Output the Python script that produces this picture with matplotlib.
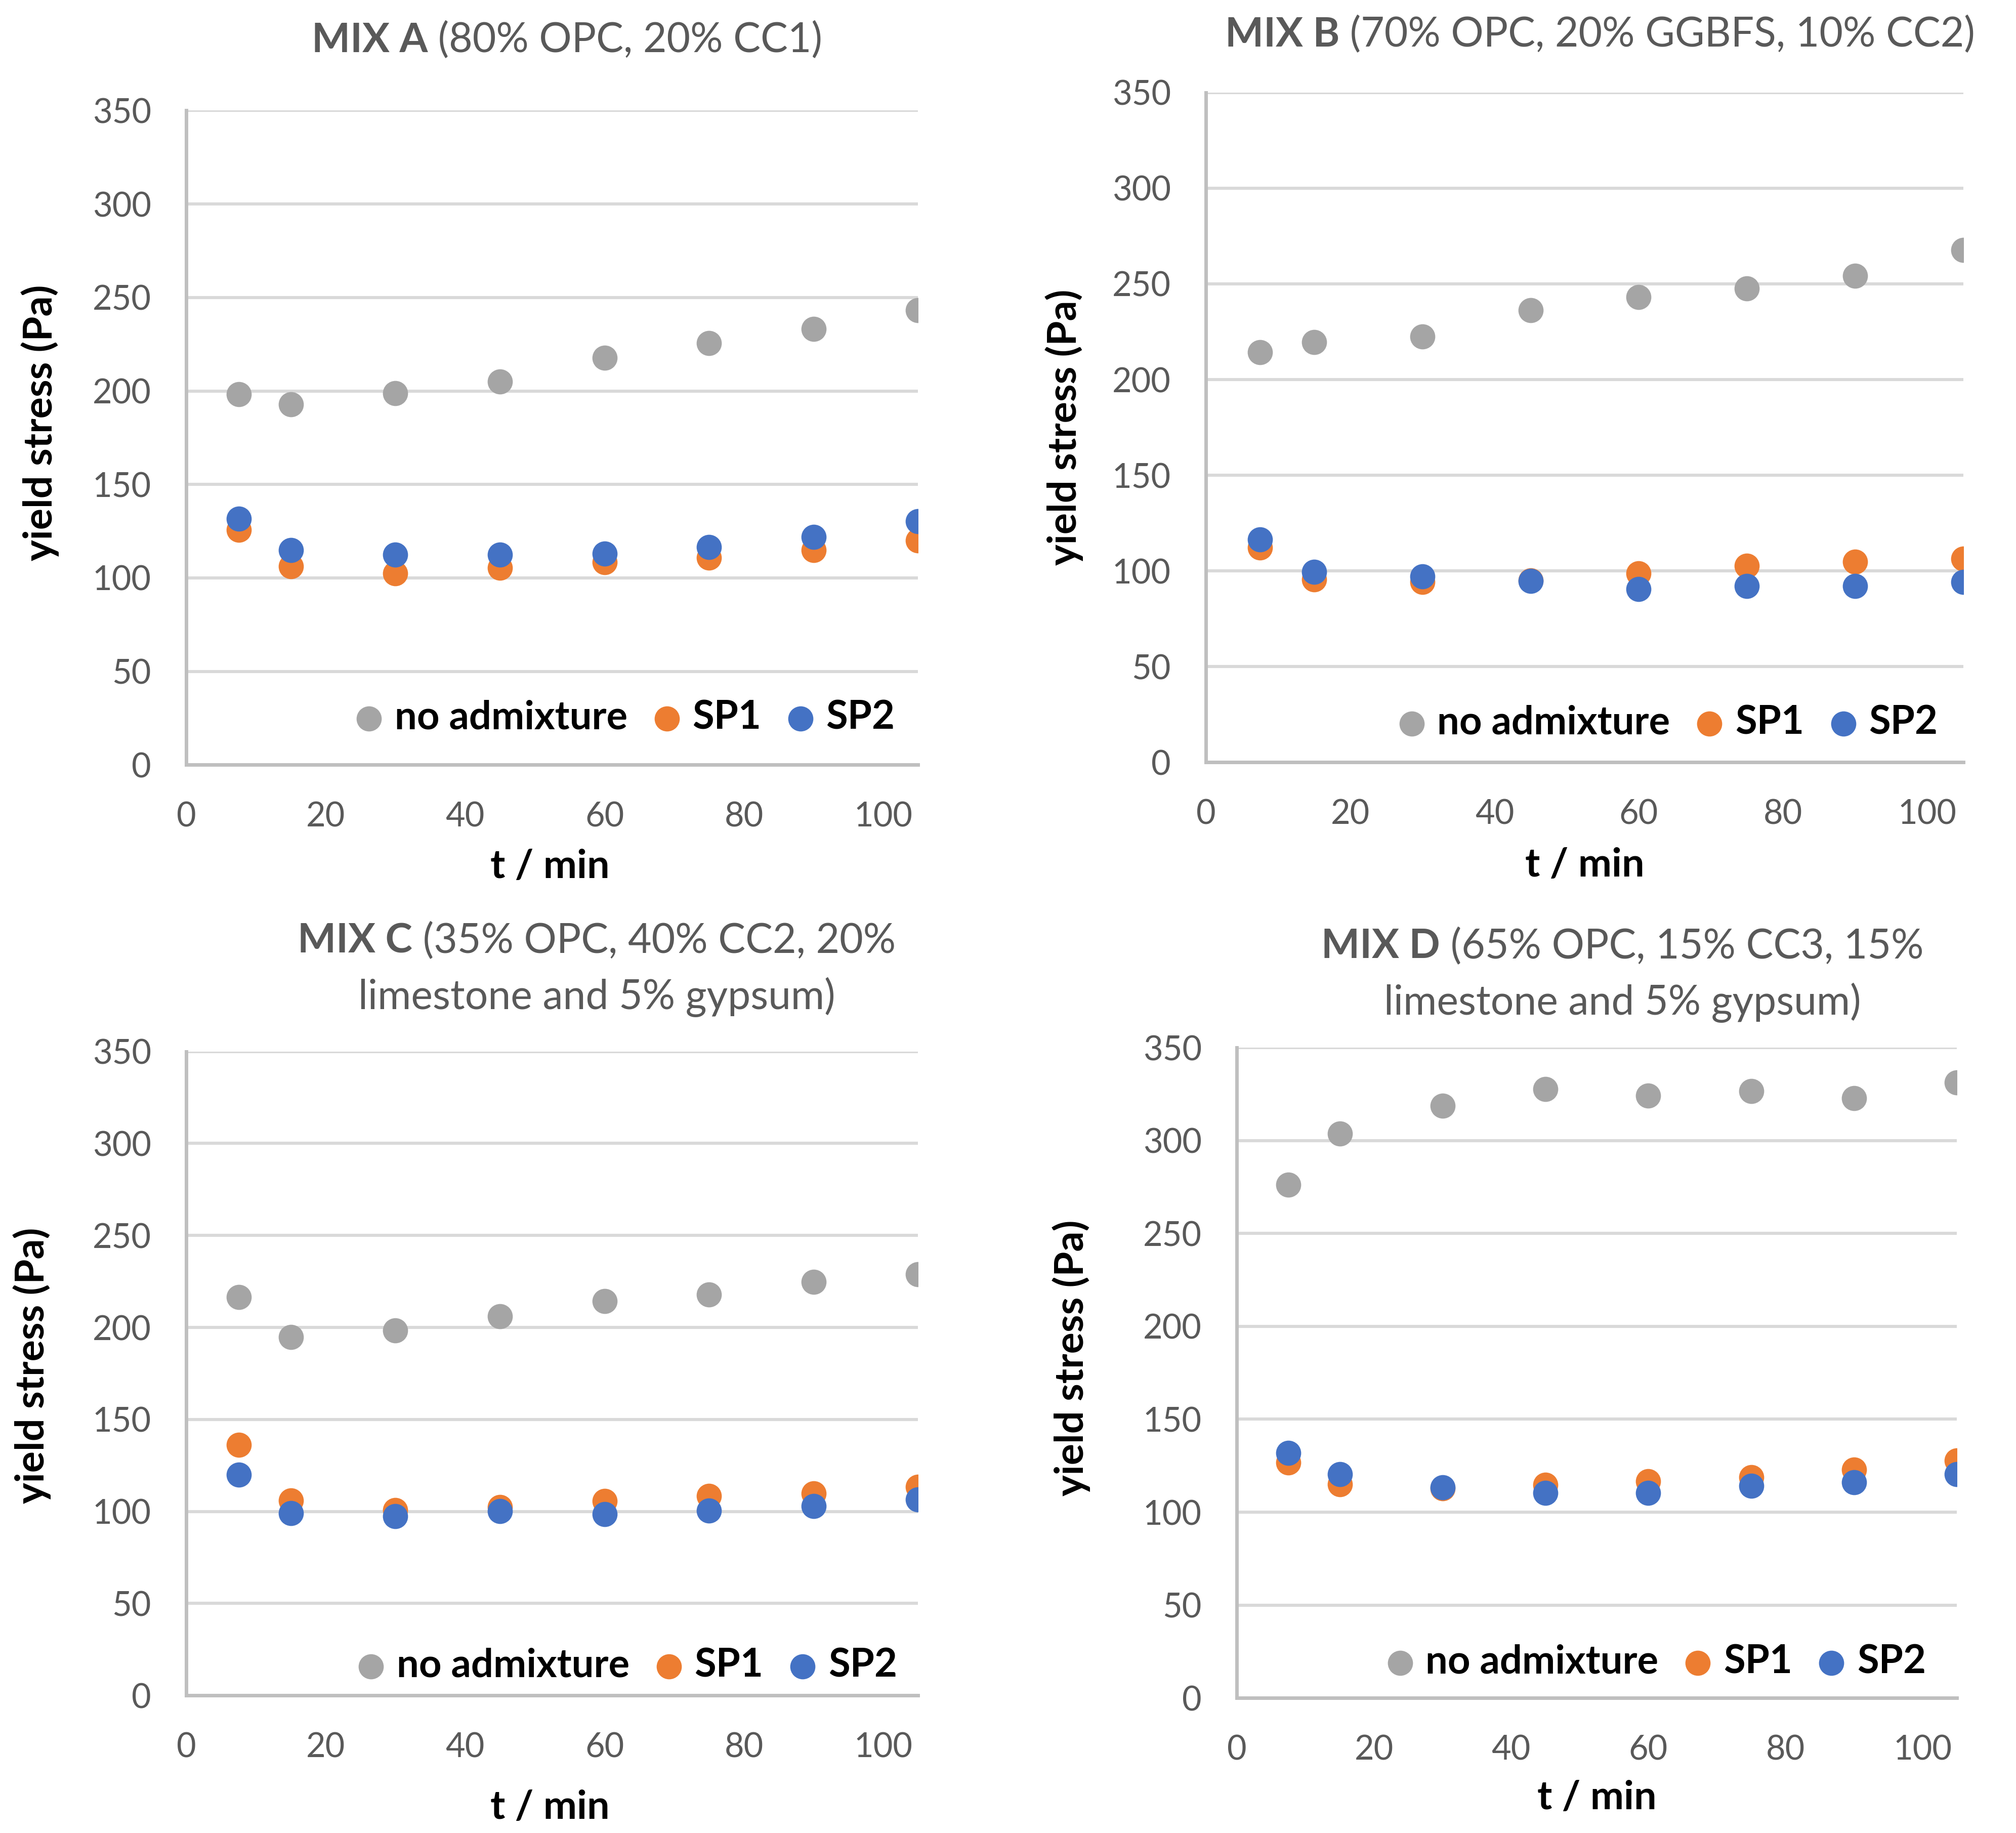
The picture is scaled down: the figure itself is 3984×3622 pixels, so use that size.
import matplotlib
matplotlib.use("Agg")
import matplotlib.pyplot as plt

plt.rcParams["font.family"] = ["Lato", "DejaVu Sans"]

# sampling times (min)
t = [7.5, 15, 30, 45, 60, 75, 90, 105]

# MIX A
a_none = [198.3, 192.7, 198.9, 205.1, 217.8, 225.6, 233.3, 243.3]
a_sp1 = [125.7, 106.1, 102.4, 105.5, 108.3, 110.8, 114.8, 120.1]
a_sp2 = [131.6, 114.8, 112.3, 112.3, 112.9, 116.4, 121.9, 130.3]

# MIX B
b_none = [214.3, 219.5, 222.5, 236.2, 243.2, 247.7, 254.1, 267.8]
b_sp1 = [112.3, 95.6, 94.1, 95.0, 98.7, 102.6, 104.7, 106.3]
b_sp2 = [116.3, 99.6, 97.1, 94.7, 90.5, 92.0, 92.0, 94.1]

# MIX C
c_none = [216.6, 194.8, 198.4, 206.0, 214.4, 217.9, 224.9, 228.8]
c_sp1 = [136.3, 105.9, 100.8, 102.4, 105.6, 108.5, 109.7, 113.3]
c_sp2 = [120.0, 99.2, 97.3, 100.1, 98.5, 100.5, 103.0, 106.5]

# MIX D
d_none = [276.3, 303.8, 318.7, 327.6, 324.1, 326.6, 322.8, 331.3]
d_sp1 = [126.8, 115.1, 112.9, 114.8, 116.7, 118.9, 123.0, 127.7]
d_sp2 = [131.8, 120.5, 113.5, 110.3, 110.3, 114.1, 116.0, 120.5]

series_labels = ["no admixture", "SP1", "SP2"]
colors = ["#A5A5A5", "#ED7D31", "#4472C4"]

W, H = 3984, 3622
# layout measured on a 1568 x 1426 view of the original
VW, VH = 1568.0, 1426.0


def rect(left, right, top, bottom):
    return [left / VW, 1 - bottom / VH, (right - left) / VW, (bottom - top) / VH]


fig = plt.figure(figsize=(W / 200, H / 200), dpi=200)

panels = [
    dict(rect=rect(145, 714, 86, 595), data=(a_none, a_sp1, a_sp2),
         bold="MIX A", rest=" (80% OPC, 20% CC1)", line2=None,
         tc=(441 / VW, 0.978), ylab=(-0.174, 0.523), xlab=(0.497, -0.128), leg=(0.99, 0.072)),
    dict(rect=rect(938, 1527, 72, 593), data=(b_none, b_sp1, b_sp2),
         bold="MIX B", rest=" (70% OPC, 20% GGBFS, 10% CC2)", line2=None,
         tc=(1244.5 / VW, 0.981), ylab=(-0.162, 0.50), xlab=(0.50, -0.127), leg=(0.987, 0.059)),
    dict(rect=rect(145, 714, 818, 1319), data=(c_none, c_sp1, c_sp2),
         bold="MIX C", rest=" (35% OPC, 40% CC2, 20%", line2="limestone and 5% gypsum)",
         tc=(464 / VW, 0.4866), ylab=(-0.185, 0.512), xlab=(0.497, -0.146), leg=(0.993, 0.046)),
    dict(rect=rect(962, 1522, 815, 1321), data=(d_none, d_sp1, d_sp2),
         bold="MIX D", rest=" (65% OPC, 15% CC3, 15%", line2="limestone and 5% gypsum)",
         tc=(1262 / VW, 0.4836), ylab=(-0.203, 0.523), xlab=(0.50, -0.126), leg=(0.979, 0.055)),
]

renderer = fig.canvas.get_renderer()
title_fs = 29
title_col = "#595959"

for p in panels:
    ax = fig.add_axes(p["rect"])
    for vals, lab, col in zip(p["data"], series_labels, colors):
        ax.scatter(t, vals, s=320, color=col, label=lab, zorder=3, linewidths=0)
    ax.set_xlim(0, 105)
    ax.set_ylim(0, 350)
    ax.set_xticks([0, 20, 40, 60, 80, 100])
    ax.set_yticks(range(0, 351, 50))
    ax.grid(axis="y", color="#D9D9D9", lw=2.2, zorder=0)
    ax.set_axisbelow(True)
    for s in ["top", "right"]:
        ax.spines[s].set_visible(False)
    for s in ["left", "bottom"]:
        ax.spines[s].set_color("#BFBFBF")
        ax.spines[s].set_linewidth(2.5)
    ax.tick_params(length=0, labelsize=24, labelcolor="#595959")
    ax.tick_params(axis="y", pad=25)
    ax.tick_params(axis="x", pad=26)
    ax.set_ylabel("yield stress (Pa)", fontsize=28.5, fontweight="bold")
    ax.set_xlabel("t / min", fontsize=28.5, fontweight="bold")
    ax.yaxis.set_label_coords(*p["ylab"])
    ax.xaxis.set_label_coords(*p["xlab"])
    ax.legend(loc="center right", bbox_to_anchor=p["leg"], ncol=3, frameon=False,
              prop={"weight": "bold", "size": 28}, handletextpad=0.15,
              columnspacing=0.5, handlelength=1.0, borderaxespad=0)

    # title with bold lead-in, centred as a whole
    xc, yc = p["tc"]
    t1 = fig.text(0, yc, p["bold"], fontsize=title_fs, fontweight="bold", color=title_col, va="center")
    t2 = fig.text(0, yc, p["rest"], fontsize=title_fs, color=title_col, va="center")
    w1 = t1.get_window_extent(renderer).width
    w2 = t2.get_window_extent(renderer).width
    x0 = xc * W - (w1 + w2) / 2
    t1.set_x(x0 / W)
    t2.set_x((x0 + w1) / W)
    if p["line2"]:
        fig.text(xc, yc - 0.0305, p["line2"], fontsize=title_fs, color=title_col, ha="center", va="center")

fig.savefig("out.png", dpi=200)
